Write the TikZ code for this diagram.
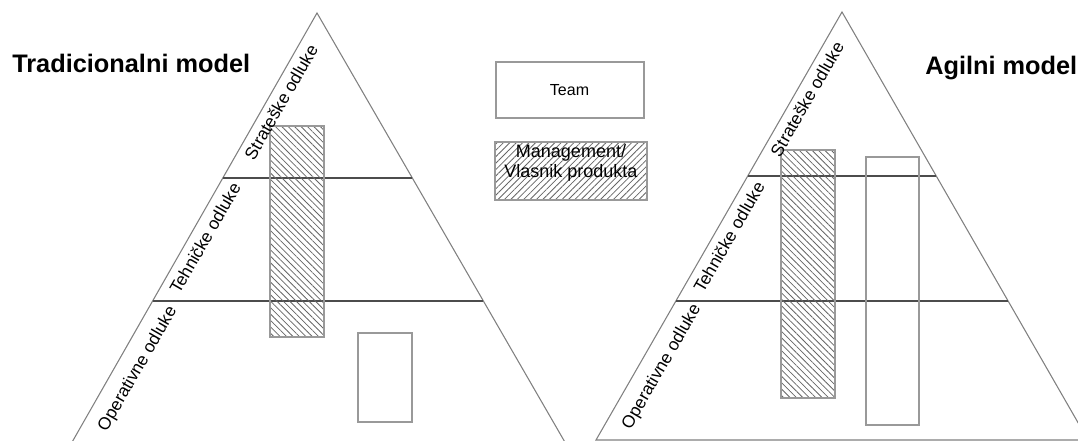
\documentclass[tikz,border=0pt]{standalone}
\usepackage{fontspec}
\setmainfont{Liberation Sans}
\usetikzlibrary{calc,patterns.meta}

\tikzset{
  rub/.style={draw=black!50, line width=0.8pt},
  razina/.style={draw=black!70, line width=1.5pt},
  upravni/.style={draw=black!40, line width=1.5pt, pattern={Lines[angle=-45,distance=3.4pt,line width=0.6pt]}, pattern color=black!60},
  timski/.style={draw=black!40, line width=1.5pt},
  odluka/.style={rotate=60, font=\fontsize{13}{15}\selectfont, inner sep=0pt},
  naslov/.style={anchor=base west, inner sep=0pt, font=\fontsize{19}{22}\selectfont\bfseries}
}

\begin{document}
\begin{tikzpicture}[x=0.75pt,y=0.75pt,yscale=-1]
\useasboundingbox (0,0) rectangle (1078,441);

%Shape: Triangle (tradicionalni)
\coordinate (Lvrh) at (317,13);
\coordinate (Llijevo) at (71,444);
\coordinate (Ldesno) at (566,444);
\draw [rub] (Lvrh) -- (Llijevo) -- (Ldesno) -- cycle;
%Shape: Lines (tradicionalni)
\draw [razina] ($(Llijevo)!0.6172!(Lvrh)$) -- ($(Ldesno)!0.6172!(Lvrh)$);
\draw [razina] ($(Llijevo)!0.3318!(Lvrh)$) -- ($(Ldesno)!0.3318!(Lvrh)$);
%Shape: Rectangles (tradicionalni)
\draw [upravni] (270,126) rectangle (324,337);
\draw [timski] (358,333) rectangle (412,422);

%Shape: Triangle (agilni)
\coordinate (Avrh) at (842,12);
\coordinate (Alijevo) at (596,440);
\coordinate (Adesno) at (1088,440);
\draw [rub] (Avrh) -- (Alijevo) -- (Adesno) -- cycle;
%Shape: Lines (agilni)
\draw [razina] ($(Alijevo)!0.617!(Avrh)$) -- ($(Adesno)!0.617!(Avrh)$);
\draw [razina] ($(Alijevo)!0.325!(Avrh)$) -- ($(Adesno)!0.325!(Avrh)$);
%Shape: Rectangles (agilni)
\draw [upravni] (781,150) rectangle (835,398);
\draw [timski] (866,157) rectangle (919,425);

%Shape: Legend
\node (team) [timski, minimum width=111pt, minimum height=42pt, font=\fontsize{12}{14}\selectfont] at (569.5,90) {Team};
\node (uprava) [upravni, pattern={Lines[angle=45,distance=3.4pt,line width=0.6pt]}, minimum width=114pt, minimum height=43.5pt] at (571,171) {};
\node (upravatekst) [align=center, inner sep=0pt, font=\fontsize{13.5}{15.5}\selectfont] at (571,163) {Management/\\Vlasnik produkta};

% Text Node
\node (Tnaslov) [naslov] at (12,73) {Tradicionalni model};
% Text Node
\node (Anaslov) [naslov] at (925,75) {Agilni model};
% Text Node
\node (Tstrat) [odluka] at (281,102) {Strateške odluke};
\node (Ttehn) [odluka] at (205,238) {Tehničke odluke};
\node (Toper) [odluka] at (138,369) {Operativne odluke};
% Text Node
\node (Astrat) [odluka] at (807,99) {Strateške odluke};
\node (Atehn) [odluka] at (729,237) {Tehničke odluke};
\node (Aoper) [odluka] at (662,367) {Operativne odluke};
\end{tikzpicture}
\end{document}
